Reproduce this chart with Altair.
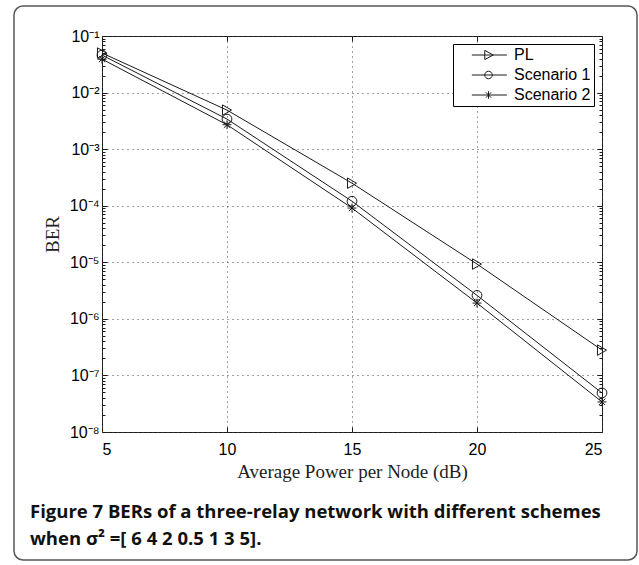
import altair as alt
import pandas as pd

# ---- data ----
snr_db = [5, 10, 15, 20, 25]
ber_pl = [5.0e-2, 4.9e-3, 2.5e-4, 9.3e-6, 2.8e-7]
ber_s1 = [4.6e-2, 3.4e-3, 1.2e-4, 2.6e-6, 4.9e-8]
ber_s2 = [3.9e-2, 2.7e-3, 9.1e-5, 1.9e-6, 3.4e-8]
series_names = ["PL", "Scenario 1", "Scenario 2"]
x_tick_values = [5, 10, 15, 20, 25]
y_decades = [1e-8, 1e-7, 1e-6, 1e-5, 1e-4, 1e-3, 1e-2, 1e-1]
caption_lines = [
    "Figure 7 BERs of a three-relay network with different schemes",
    "when \u03c3\u00b2 =[ 6 4 2 0.5 1 3 5].",
]

rows = []
for name, vals in zip(series_names, [ber_pl, ber_s1, ber_s2]):
    for x, v in zip(snr_db, vals):
        rows.append({"snr": x, "ber": v, "series": name})
df = pd.DataFrame(rows)

y_minor = sorted({k * d for d in y_decades[:-1] for k in range(1, 10)} | {1e-1})

W, H = 500, 396
xs = alt.Scale(domain=[5, 25], nice=False, zero=False)
ys = alt.Scale(type="log", domain=[1e-8, 1e-1], nice=False)

star = "M-1,0L1,0M0,-1L0,1M-0.7,-0.7L0.7,0.7M-0.7,0.7L0.7,-0.7"
marker_shapes = ["triangle-right", "circle", star]
legend_shapes = [
    "M1.57,0L8.57,0M4.15,-0.92L5.85,0L4.15,0.92Z",
    "M1.57,0L8.57,0M5.65,0A0.75,0.75,0,1,1,4.15,0A0.75,0.75,0,1,1,5.65,0",
    "M1.57,0L8.57,0M4.9,-0.75L4.9,0.75M4.37,-0.53L5.43,0.53M4.37,0.53L5.43,-0.53",
]

sup = "['\u2070','\u00b9','\u00b2','\u00b3','\u2074','\u2075','\u2076','\u2077','\u2078','\u2079']"
y_label_expr = "'10\u207b' + " + sup + "[-round(log(datum.value)/LN10)]"
is_major = "abs(log(datum.value)/LN10 - round(log(datum.value)/LN10)) < 0.001"

base = alt.Chart(df)

border = alt.Chart(pd.DataFrame({"a": [0]})).mark_rect(
    filled=False, stroke="#555", strokeWidth=1.5, cornerRadius=9
).encode(x=alt.value(-88), x2=alt.value(535), y=alt.value(-30), y2=alt.value(524))

lines = base.mark_line(color="#1a1a1a", strokeWidth=1).encode(
    x=alt.X("snr:Q", scale=xs, axis=alt.Axis(
        values=x_tick_values, grid=True, gridDash=[1, 4], gridColor="#444",
        ticks=False, domain=False, labelFont="Liberation Sans", labelFontSize=16,
        labelColor="black", labelPadding=9, title="Average Power per Node (dB)",
        titleFont="Liberation Serif", titleFontSize=19, titleFontWeight="normal",
        titleColor="#222", titlePadding=5)),
    y=alt.Y("ber:Q", scale=ys, axis=alt.Axis(
        values=y_decades, labelExpr=y_label_expr, grid=True, gridDash=[1, 4],
        gridColor="#444", ticks=False, domain=False, labelFont="Liberation Sans",
        labelFontSize=16, labelColor="black", labelPadding=3, title="BER",
        titleFont="Liberation Serif", titleFontSize=19, titleFontWeight="normal",
        titleColor="#222", titlePadding=7)),
    detail="series:N",
)

points = base.mark_point(filled=False, color="#1a1a1a", strokeWidth=1, opacity=1).encode(
    x=alt.X("snr:Q", scale=xs, axis=None),
    y=alt.Y("ber:Q", scale=ys, axis=None),
    shape=alt.Shape("series:N", scale=alt.Scale(domain=series_names, range=marker_shapes), legend=None),
    size=alt.Size("series:N", scale=alt.Scale(domain=series_names, range=[110, 80, 70]), legend=None),
)

legend_layer = base.transform_filter("false").mark_point(
    filled=False, color="#1a1a1a", strokeWidth=1
).encode(
    x=alt.X("snr:Q", scale=xs, axis=None),
    y=alt.Y("ber:Q", scale=ys, axis=None),
    shape=alt.Shape("series:N", scale=alt.Scale(domain=series_names, range=legend_shapes),
                    legend=alt.Legend(
                        title=None, orient="none", legendX=351, legendY=8,
                        padding=3, rowPadding=4, symbolSize=100, symbolStrokeWidth=1,
                        symbolStrokeColor="#1a1a1a", symbolFillColor="transparent",
                        symbolOpacity=1, labelOffset=42, labelFont="Liberation Sans",
                        labelFontSize=16, labelColor="black", strokeColor="black",
                        fillColor="white", labelExpr="datum.label")),
)

tick_common = dict(labels=False, domain=False, grid=False, tickColor="#1a1a1a", tickWidth=1)

ticks_a = base.mark_line(opacity=0).encode(
    x=alt.X("snr:Q", scale=xs, axis=alt.Axis(orient="top", offset=-H, values=[10, 15, 20],
                                               tickSize=5, title=None, **tick_common)),
    y=alt.Y("ber:Q", scale=ys, axis=alt.Axis(orient="right", offset=-W, values=y_minor,
                                               tickSize={"condition": {"test": is_major, "value": 5}, "value": 3},
                                               title=None, **tick_common)),
    detail="series:N",
)
ticks_b = base.mark_line(opacity=0).encode(
    x=alt.X("snr:Q", scale=xs, axis=alt.Axis(orient="bottom", offset=-H, values=[10, 15, 20],
                                               tickSize=5, title=None, **tick_common)),
    y=alt.Y("ber:Q", scale=ys, axis=alt.Axis(orient="left", offset=-W, values=y_minor,
                                               tickSize={"condition": {"test": is_major, "value": 5}, "value": 3},
                                               title=None, **tick_common)),
    detail="series:N",
)

chart = alt.layer(border, ticks_a, ticks_b, lines, points, legend_layer).resolve_axis(
    x="independent", y="independent"
).resolve_scale(shape="independent").properties(
    width=W, height=H,
    autosize=alt.AutoSizeParams(type="none"),
    padding={"left": 102, "top": 36, "right": 37, "bottom": 133},
    background="white",
    title=alt.TitleParams(
        text=caption_lines, orient="bottom", anchor="start", frame="group", dx=-72,
        offset=0, dy=-58, font="Open Sans", fontSize=18.5, fontWeight="bold", color="#111",
        lineHeight=27,
    ),
).configure_view(stroke="#1a1a1a", strokeWidth=1)

chart.save("out.html", embed_options={"renderer": "svg", "actions": False})
